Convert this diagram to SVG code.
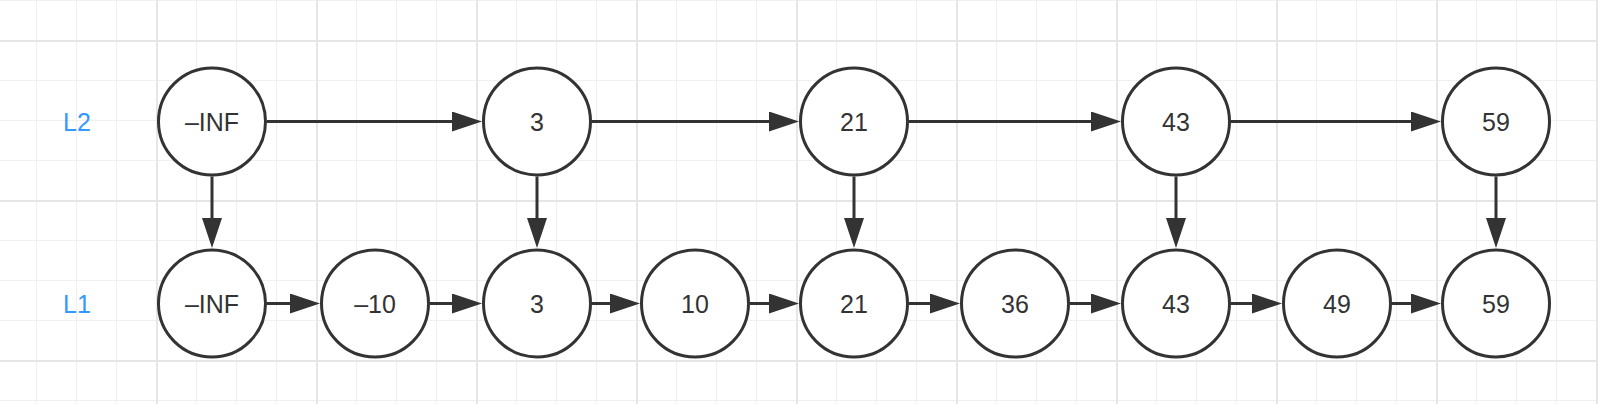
<svg xmlns="http://www.w3.org/2000/svg" width="1598" height="404" viewBox="0 0 1598 404">
<style>
.gmin{stroke:#f0f0f0;stroke-width:1;fill:none}
.gmaj{stroke:#e6e6e6;stroke-width:2;fill:none}
.node circle{fill:#fff;stroke:#333;stroke-width:3}
.node text{font-family:"Liberation Sans",Arial,sans-serif;font-size:25px;fill:#333;text-anchor:middle}
.lbl text{font-family:"Liberation Sans",Arial,sans-serif;font-size:25px;fill:#3399ff;text-anchor:middle}
#connectors path{stroke:#333;stroke-width:3;fill:none;marker-end:url(#arr)}
</style>
<defs>
<marker id="arr" viewBox="0 0 30 20" markerUnits="userSpaceOnUse" markerWidth="30" markerHeight="20" refX="2" refY="10" orient="auto">
<path d="M0,0 L30,10 L0,20 Z" fill="#333"/>
</marker>
</defs>
<rect width="1598" height="404" fill="#fff"/>
<g id="grid">
<path class="gmin" d="M36.5 0V404M76.5 0V404M116.5 0V404M156.5 0V404M196.5 0V404M236.5 0V404M276.5 0V404M316.5 0V404M356.5 0V404M396.5 0V404M436.5 0V404M476.5 0V404M516.5 0V404M556.5 0V404M596.5 0V404M636.5 0V404M676.5 0V404M716.5 0V404M756.5 0V404M796.5 0V404M836.5 0V404M876.5 0V404M916.5 0V404M956.5 0V404M996.5 0V404M1036.5 0V404M1076.5 0V404M1116.5 0V404M1156.5 0V404M1196.5 0V404M1236.5 0V404M1276.5 0V404M1316.5 0V404M1356.5 0V404M1396.5 0V404M1436.5 0V404M1476.5 0V404M1516.5 0V404M1556.5 0V404M1596.5 0V404M0 0.5H1598M0 40.5H1598M0 80.5H1598M0 120.5H1598M0 160.5H1598M0 200.5H1598M0 240.5H1598M0 280.5H1598M0 320.5H1598M0 360.5H1598M0 400.5H1598"/>
<path class="gmaj" d="M157 0V404M317 0V404M477 0V404M637 0V404M797 0V404M957 0V404M1117 0V404M1277 0V404M1437 0V404M1597 0V404M0 41H1598M0 201H1598M0 361H1598"/>
</g>
<g id="labels" class="lbl">
<text x="77" y="130.5">L2</text>
<text x="77" y="312.5">L1</text>
</g>
<g id="connectors">
<path d="M267 121.5H454"/>
<path d="M592 121.5H771"/>
<path d="M909 121.5H1093"/>
<path d="M1231 121.5H1413"/>
<path d="M267 303.5H292"/>
<path d="M430 303.5H454"/>
<path d="M592 303.5H612"/>
<path d="M750 303.5H771"/>
<path d="M909 303.5H932"/>
<path d="M1070 303.5H1093"/>
<path d="M1231 303.5H1254"/>
<path d="M1392 303.5H1413"/>
<path d="M212 176.5V220"/>
<path d="M537 176.5V220"/>
<path d="M854 176.5V220"/>
<path d="M1176 176.5V220"/>
<path d="M1496 176.5V220"/>
</g>
<g id="l2-ninf" class="node"><circle cx="212" cy="121.5" r="53.5"/><text x="212" y="130.5">–INF</text></g>
<g id="l2-3" class="node"><circle cx="537" cy="121.5" r="53.5"/><text x="537" y="130.5">3</text></g>
<g id="l2-21" class="node"><circle cx="854" cy="121.5" r="53.5"/><text x="854" y="130.5">21</text></g>
<g id="l2-43" class="node"><circle cx="1176" cy="121.5" r="53.5"/><text x="1176" y="130.5">43</text></g>
<g id="l2-59" class="node"><circle cx="1496" cy="121.5" r="53.5"/><text x="1496" y="130.5">59</text></g>
<g id="l1-ninf" class="node"><circle cx="212" cy="303.5" r="53.5"/><text x="212" y="312.5">–INF</text></g>
<g id="l1-n10" class="node"><circle cx="375" cy="303.5" r="53.5"/><text x="375" y="312.5">–10</text></g>
<g id="l1-3" class="node"><circle cx="537" cy="303.5" r="53.5"/><text x="537" y="312.5">3</text></g>
<g id="l1-10" class="node"><circle cx="695" cy="303.5" r="53.5"/><text x="695" y="312.5">10</text></g>
<g id="l1-21" class="node"><circle cx="854" cy="303.5" r="53.5"/><text x="854" y="312.5">21</text></g>
<g id="l1-36" class="node"><circle cx="1015" cy="303.5" r="53.5"/><text x="1015" y="312.5">36</text></g>
<g id="l1-43" class="node"><circle cx="1176" cy="303.5" r="53.5"/><text x="1176" y="312.5">43</text></g>
<g id="l1-49" class="node"><circle cx="1337" cy="303.5" r="53.5"/><text x="1337" y="312.5">49</text></g>
<g id="l1-59" class="node"><circle cx="1496" cy="303.5" r="53.5"/><text x="1496" y="312.5">59</text></g>
</svg>
